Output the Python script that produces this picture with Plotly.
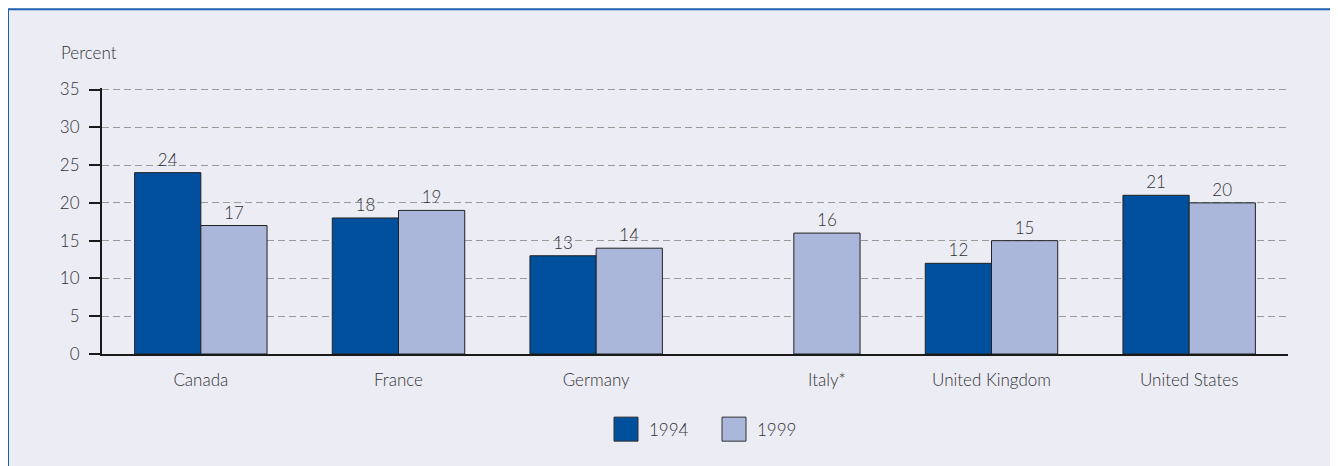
import plotly.graph_objects as go

categories = ["Canada", "France", "Germany", "Italy*", "United Kingdom", "United States"]
values_1994 = [24, 18, 13, None, 12, 21]
values_1999 = [17, 19, 14, 16, 15, 20]
series_names = ["1994", "1999"]
y_ticks = [0, 5, 10, 15, 20, 25, 30, 35]

C94 = "#00509E"
C99 = "#AAB6DA"
BG = "#ECECF5"
TXT = "#333333"
FONT = "Lato"
FW = 300

W, H = 1338, 466
OFF = 8  # page body margin
Y_MAX = 35.2
# plot area in screen pixels (y=35 at 90, y=0 at 354)
SX0, SX1, SY1 = 102, 1288, 354
SCALE = (SY1 - 90) / 35
SY0 = SY1 - Y_MAX * SCALE
ML = SX0 - OFF
MT = SY0 - OFF
PW = SX1 - SX0
PH = SY1 - SY0
MR = W - ML - PW
MB = H - MT - PH


def px(x):
    return (x - SX0) / PW


def py(y):
    return (SY1 - y) / PH


BARGAP = 0.33
bar_w = (1 - BARGAP) / 2

xpos = list(range(len(categories)))
# label sits under the single bar when the 1994 value is missing
tickvals = [i + (bar_w / 2 if v is None else 0) for i, v in zip(xpos, values_1994)]

fig = go.Figure()
for name, vals, col in [(series_names[0], values_1994, C94), (series_names[1], values_1999, C99)]:
    fig.add_trace(go.Bar(
        x=xpos, y=vals, name=name,
        marker=dict(color=col, line=dict(color="#222222", width=1)),
        text=[("" if v is None else str(v)) for v in vals],
        textposition="outside",
        textfont=dict(family=FONT, size=17, color=TXT, weight=FW),
        cliponaxis=False,
        showlegend=False,
    ))

shapes = [
    dict(type="rect", xref="paper", yref="paper",
         x0=px(8), x1=px(W + 40), y0=py(10), y1=py(H + 40),
         fillcolor=BG, line=dict(color="#1F5FAF", width=2), layer="below"),
]
annotations = [
    dict(text="Percent", xref="paper", yref="paper", x=px(59), y=py(53),
         xanchor="left", yanchor="middle", showarrow=False,
         font=dict(family=FONT, size=17, color=TXT, weight=FW)),
]
# custom legend
leg = [(series_names[0], C94, 614, 647), (series_names[1], C99, 722, 755)]
for name, col, bx, tx in leg:
    shapes.append(dict(type="rect", xref="paper", yref="paper",
                       x0=px(bx), x1=px(bx + 24), y0=py(441), y1=py(417),
                       fillcolor=col, line=dict(color="#333333", width=1)))
    annotations.append(dict(text=name, xref="paper", yref="paper", x=px(tx), y=py(429),
                            xanchor="left", yanchor="middle", showarrow=False,
                            font=dict(family=FONT, size=17, color=TXT, weight=FW)))

fig.update_layout(
    width=W, height=H,
    margin=dict(l=ML, r=MR, t=MT, b=MB),
    paper_bgcolor="white", plot_bgcolor=BG,
    barmode="group", bargap=BARGAP, bargroupgap=0,
    font=dict(family=FONT, size=17, color=TXT, weight=FW),
    shapes=shapes, annotations=annotations,
    showlegend=False,
)
fig.update_xaxes(
    range=[-0.5, len(categories) - 0.5],
    tickvals=tickvals, ticktext=categories,
    showgrid=False, zeroline=False,
    showline=True, linecolor="#1a1a1a", linewidth=2,
    ticks="", ticklabelstandoff=10,
    tickfont=dict(family=FONT, size=17, color=TXT, weight=FW),
)
fig.update_yaxes(
    range=[0, Y_MAX], tickvals=y_ticks,
    showgrid=True, gridcolor="#9a9a9a", griddash="7px,4px", gridwidth=1,
    zeroline=False,
    showline=True, linecolor="#1a1a1a", linewidth=2,
    ticks="outside", ticklen=11, tickwidth=2, tickcolor="#1a1a1a",
    ticklabelstandoff=6,
    tickfont=dict(family=FONT, size=17, color=TXT, weight=FW),
)

fig.write_html("out.html")
